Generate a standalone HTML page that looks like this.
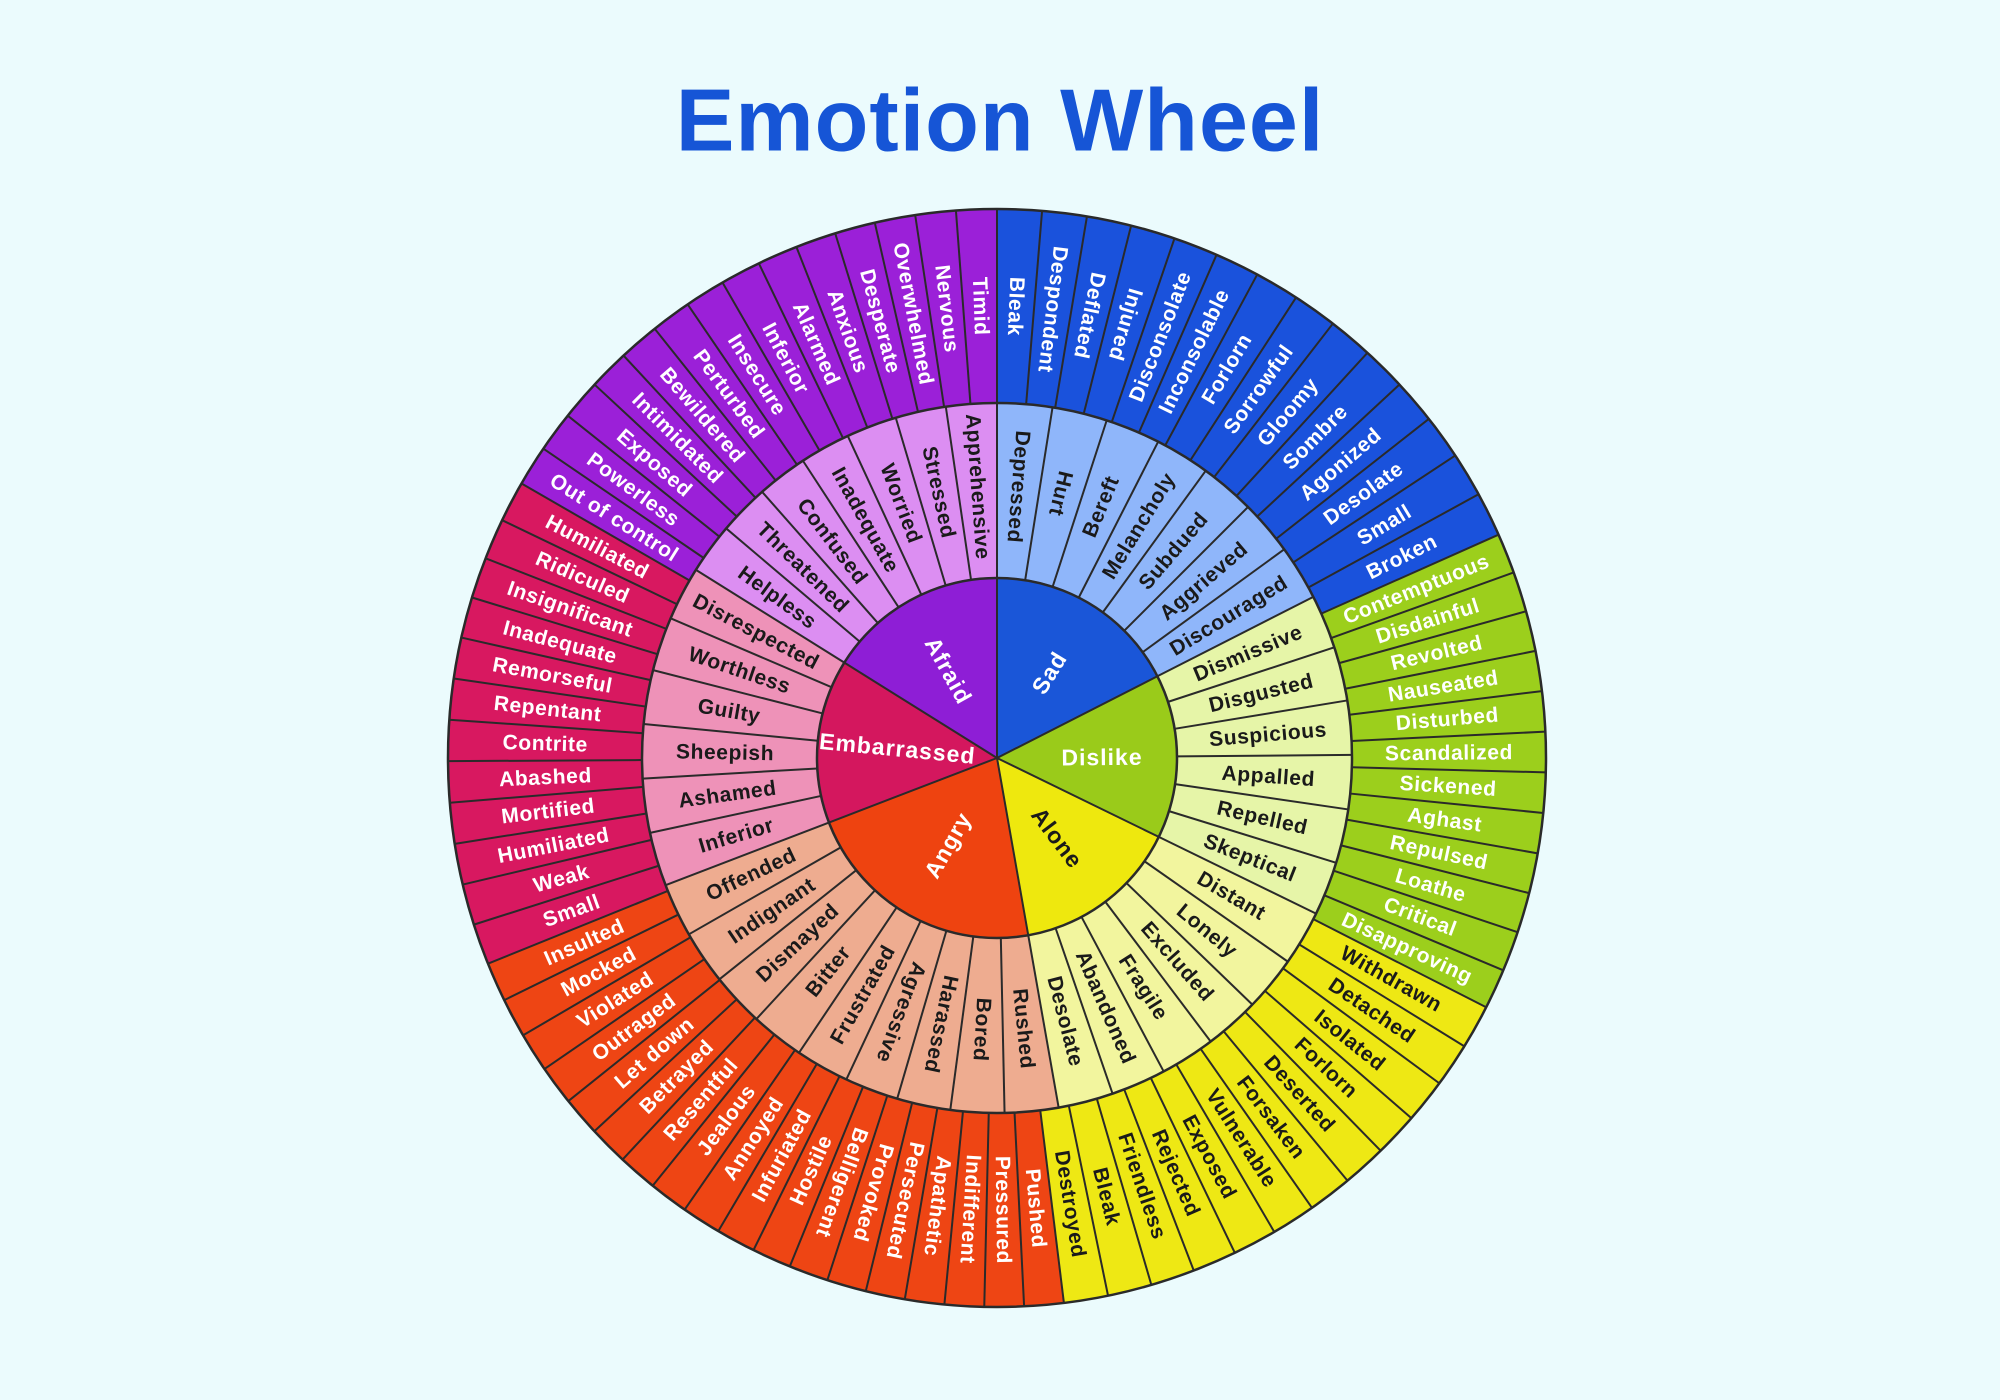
<!DOCTYPE html>
<html><head><meta charset="utf-8"><style>
html,body{margin:0;padding:0;background:#ebfbfd;}
svg{display:block}
text{font-family:"Liberation Sans",sans-serif;font-weight:bold;dominant-baseline:central;text-anchor:middle;}
.o{font-size:21px;fill:#fff;letter-spacing:0.6px}
.od{font-size:21px;fill:#1a1a1a;letter-spacing:0.6px}
.m{font-size:21px;fill:#1a1a1a;letter-spacing:0.6px}
.c{font-size:23px;fill:#fff;letter-spacing:1px}
line{stroke:#2a2a2a;stroke-width:2}
</style></head><body>
<svg width="2000" height="1400" viewBox="0 0 2000 1400">
<rect width="2000" height="1400" fill="#ebfbfd"/>
<text x="1000" y="120" style="font-size:88px;fill:#1655d6;letter-spacing:1px">Emotion Wheel</text>
<g transform="translate(997,758)">
<g fill="none" stroke-width="194">
<circle r="452" pathLength="360" stroke="#1a52dc" stroke-dasharray="66 360" transform="rotate(-90)"/>
<circle r="452" pathLength="360" stroke="#9ccf1c" stroke-dasharray="51 360" transform="rotate(-24)"/>
<circle r="452" pathLength="360" stroke="#eee814" stroke-dasharray="56 360" transform="rotate(27)"/>
<circle r="452" pathLength="360" stroke="#ee4514" stroke-dasharray="75 360" transform="rotate(83)"/>
<circle r="452" pathLength="360" stroke="#d81860" stroke-dasharray="52 360" transform="rotate(158)"/>
<circle r="452" pathLength="360" stroke="#9b20d8" stroke-dasharray="60 360" transform="rotate(210)"/>
</g>
<g fill="none" stroke-width="176">
<circle r="267" pathLength="360" stroke="#8fb6fa" stroke-dasharray="63 360" transform="rotate(-90)"/>
<circle r="267" pathLength="360" stroke="#e6f5a8" stroke-dasharray="53 360" transform="rotate(-27)"/>
<circle r="267" pathLength="360" stroke="#f2f59e" stroke-dasharray="54 360" transform="rotate(26)"/>
<circle r="267" pathLength="360" stroke="#eeac90" stroke-dasharray="79 360" transform="rotate(80)"/>
<circle r="267" pathLength="360" stroke="#ee92b8" stroke-dasharray="53 360" transform="rotate(159)"/>
<circle r="267" pathLength="360" stroke="#dc8ef2" stroke-dasharray="58 360" transform="rotate(212)"/>
</g>
<g fill="none" stroke-width="181">
<circle r="90.5" pathLength="360" stroke="#1a56d8" stroke-dasharray="63 360" transform="rotate(-90)"/>
<circle r="90.5" pathLength="360" stroke="#9acb1a" stroke-dasharray="53 360" transform="rotate(-27)"/>
<circle r="90.5" pathLength="360" stroke="#eee80e" stroke-dasharray="54 360" transform="rotate(26)"/>
<circle r="90.5" pathLength="360" stroke="#ee4310" stroke-dasharray="79 360" transform="rotate(80)"/>
<circle r="90.5" pathLength="360" stroke="#d4175e" stroke-dasharray="53 360" transform="rotate(159)"/>
<circle r="90.5" pathLength="360" stroke="#8e1ed6" stroke-dasharray="58 360" transform="rotate(212)"/>
</g>
<g>
<line x1="0" x2="180" transform="rotate(-90)"/><line x1="0" x2="180" transform="rotate(-27)"/><line x1="0" x2="180" transform="rotate(26)"/><line x1="0" x2="180" transform="rotate(80)"/><line x1="0" x2="180" transform="rotate(159)"/><line x1="0" x2="180" transform="rotate(212)"/>
</g>
<g>
<line x1="180" x2="355" transform="rotate(-90)"/><line x1="180" x2="355" transform="rotate(-81)"/><line x1="180" x2="355" transform="rotate(-72)"/><line x1="180" x2="355" transform="rotate(-63)"/><line x1="180" x2="355" transform="rotate(-54)"/><line x1="180" x2="355" transform="rotate(-45)"/><line x1="180" x2="355" transform="rotate(-36)"/><line x1="180" x2="355" transform="rotate(-27)"/>
<line x1="180" x2="355" transform="rotate(-18.17)"/><line x1="180" x2="355" transform="rotate(-9.33)"/><line x1="180" x2="355" transform="rotate(-0.5)"/><line x1="180" x2="355" transform="rotate(8.33)"/><line x1="180" x2="355" transform="rotate(17.17)"/><line x1="180" x2="355" transform="rotate(26)"/>
<line x1="180" x2="355" transform="rotate(35)"/><line x1="180" x2="355" transform="rotate(44)"/><line x1="180" x2="355" transform="rotate(53)"/><line x1="180" x2="355" transform="rotate(62)"/><line x1="180" x2="355" transform="rotate(71)"/><line x1="180" x2="355" transform="rotate(80)"/>
<line x1="180" x2="355" transform="rotate(88.78)"/><line x1="180" x2="355" transform="rotate(97.56)"/><line x1="180" x2="355" transform="rotate(106.33)"/><line x1="180" x2="355" transform="rotate(115.11)"/><line x1="180" x2="355" transform="rotate(123.89)"/><line x1="180" x2="355" transform="rotate(132.67)"/><line x1="180" x2="355" transform="rotate(141.44)"/><line x1="180" x2="355" transform="rotate(150.22)"/><line x1="180" x2="355" transform="rotate(159)"/>
<line x1="180" x2="355" transform="rotate(167.83)"/><line x1="180" x2="355" transform="rotate(176.67)"/><line x1="180" x2="355" transform="rotate(185.5)"/><line x1="180" x2="355" transform="rotate(194.33)"/><line x1="180" x2="355" transform="rotate(203.17)"/><line x1="180" x2="355" transform="rotate(212)"/>
<line x1="180" x2="355" transform="rotate(220.29)"/><line x1="180" x2="355" transform="rotate(228.57)"/><line x1="180" x2="355" transform="rotate(236.86)"/><line x1="180" x2="355" transform="rotate(245.14)"/><line x1="180" x2="355" transform="rotate(253.43)"/><line x1="180" x2="355" transform="rotate(261.71)"/>
</g>
<g>
<line x1="355" x2="549" transform="rotate(-90)"/><line x1="355" x2="549" transform="rotate(-85.29)"/><line x1="355" x2="549" transform="rotate(-80.57)"/><line x1="355" x2="549" transform="rotate(-75.86)"/><line x1="355" x2="549" transform="rotate(-71.14)"/><line x1="355" x2="549" transform="rotate(-66.43)"/><line x1="355" x2="549" transform="rotate(-61.71)"/><line x1="355" x2="549" transform="rotate(-57)"/><line x1="355" x2="549" transform="rotate(-52.29)"/><line x1="355" x2="549" transform="rotate(-47.57)"/><line x1="355" x2="549" transform="rotate(-42.86)"/><line x1="355" x2="549" transform="rotate(-38.14)"/><line x1="355" x2="549" transform="rotate(-33.43)"/><line x1="355" x2="549" transform="rotate(-28.71)"/><line x1="355" x2="549" transform="rotate(-24)"/>
<line x1="355" x2="549" transform="rotate(-19.75)"/><line x1="355" x2="549" transform="rotate(-15.5)"/><line x1="355" x2="549" transform="rotate(-11.25)"/><line x1="355" x2="549" transform="rotate(-7)"/><line x1="355" x2="549" transform="rotate(-2.75)"/><line x1="355" x2="549" transform="rotate(1.5)"/><line x1="355" x2="549" transform="rotate(5.75)"/><line x1="355" x2="549" transform="rotate(10)"/><line x1="355" x2="549" transform="rotate(14.25)"/><line x1="355" x2="549" transform="rotate(18.5)"/><line x1="355" x2="549" transform="rotate(22.75)"/><line x1="355" x2="549" transform="rotate(27)"/>
<line x1="355" x2="549" transform="rotate(31.67)"/><line x1="355" x2="549" transform="rotate(36.33)"/><line x1="355" x2="549" transform="rotate(41)"/><line x1="355" x2="549" transform="rotate(45.67)"/><line x1="355" x2="549" transform="rotate(50.33)"/><line x1="355" x2="549" transform="rotate(55)"/><line x1="355" x2="549" transform="rotate(59.67)"/><line x1="355" x2="549" transform="rotate(64.33)"/><line x1="355" x2="549" transform="rotate(69)"/><line x1="355" x2="549" transform="rotate(73.67)"/><line x1="355" x2="549" transform="rotate(78.33)"/><line x1="355" x2="549" transform="rotate(83)"/>
<line x1="355" x2="549" transform="rotate(87.17)"/><line x1="355" x2="549" transform="rotate(91.33)"/><line x1="355" x2="549" transform="rotate(95.5)"/><line x1="355" x2="549" transform="rotate(99.67)"/><line x1="355" x2="549" transform="rotate(103.83)"/><line x1="355" x2="549" transform="rotate(108)"/><line x1="355" x2="549" transform="rotate(112.17)"/><line x1="355" x2="549" transform="rotate(116.33)"/><line x1="355" x2="549" transform="rotate(120.5)"/><line x1="355" x2="549" transform="rotate(124.67)"/><line x1="355" x2="549" transform="rotate(128.83)"/><line x1="355" x2="549" transform="rotate(133)"/><line x1="355" x2="549" transform="rotate(137.17)"/><line x1="355" x2="549" transform="rotate(141.33)"/><line x1="355" x2="549" transform="rotate(145.5)"/><line x1="355" x2="549" transform="rotate(149.67)"/><line x1="355" x2="549" transform="rotate(153.83)"/><line x1="355" x2="549" transform="rotate(158)"/>
<line x1="355" x2="549" transform="rotate(162.33)"/><line x1="355" x2="549" transform="rotate(166.67)"/><line x1="355" x2="549" transform="rotate(171)"/><line x1="355" x2="549" transform="rotate(175.33)"/><line x1="355" x2="549" transform="rotate(179.67)"/><line x1="355" x2="549" transform="rotate(184)"/><line x1="355" x2="549" transform="rotate(188.33)"/><line x1="355" x2="549" transform="rotate(192.67)"/><line x1="355" x2="549" transform="rotate(197)"/><line x1="355" x2="549" transform="rotate(201.33)"/><line x1="355" x2="549" transform="rotate(205.67)"/><line x1="355" x2="549" transform="rotate(210)"/>
<line x1="355" x2="549" transform="rotate(214.29)"/><line x1="355" x2="549" transform="rotate(218.57)"/><line x1="355" x2="549" transform="rotate(222.86)"/><line x1="355" x2="549" transform="rotate(227.14)"/><line x1="355" x2="549" transform="rotate(231.43)"/><line x1="355" x2="549" transform="rotate(235.71)"/><line x1="355" x2="549" transform="rotate(240)"/><line x1="355" x2="549" transform="rotate(244.29)"/><line x1="355" x2="549" transform="rotate(248.57)"/><line x1="355" x2="549" transform="rotate(252.86)"/><line x1="355" x2="549" transform="rotate(257.14)"/><line x1="355" x2="549" transform="rotate(261.43)"/><line x1="355" x2="549" transform="rotate(265.71)"/>
</g>
<g fill="none" stroke="#2a2a2a" stroke-width="2.5">
<circle r="180"/><circle r="355"/><circle r="549"/>
</g>
<text class="c" transform="rotate(-58.5) translate(100,0)">Sad</text>
<text class="c" transform="rotate(-0.5) translate(105,0)">Dislike</text>
<text class="c" style="fill:#1a1a1a" transform="rotate(53) translate(100,0)">Alone</text>
<text class="c" transform="rotate(119.5) translate(100,0) rotate(180)">Angry</text>
<text class="c" transform="rotate(185.5) translate(100,0) rotate(180)">Embarrassed</text>
<text class="c" transform="rotate(241) translate(100,0) rotate(180)">Afraid</text>
<g class="m">
<text transform="rotate(-85.5) translate(272,0) rotate(180)">Depressed</text>
<text transform="rotate(-76.5) translate(272,0) rotate(180)">Hurt</text>
<text transform="rotate(-67.5) translate(272,0)">Bereft</text>
<text transform="rotate(-58.5) translate(272,0)">Melancholy</text>
<text transform="rotate(-49.5) translate(272,0)">Subdued</text>
<text transform="rotate(-40.5) translate(272,0)">Aggrieved</text>
<text transform="rotate(-31.5) translate(272,0)">Discouraged</text>
<text transform="rotate(-22.6) translate(272,0)">Dismissive</text>
<text transform="rotate(-13.75) translate(272,0)">Disgusted</text>
<text transform="rotate(-4.9) translate(272,0)">Suspicious</text>
<text transform="rotate(3.9) translate(272,0)">Appalled</text>
<text transform="rotate(12.75) translate(272,0)">Repelled</text>
<text transform="rotate(21.6) translate(272,0)">Skeptical</text>
<text transform="rotate(30.5) translate(272,0)">Distant</text>
<text transform="rotate(39.5) translate(272,0)">Lonely</text>
<text transform="rotate(48.5) translate(272,0)">Excluded</text>
<text transform="rotate(57.5) translate(272,0)">Fragile</text>
<text transform="rotate(66.5) translate(272,0)">Abandoned</text>
<text transform="rotate(75.5) translate(272,0)">Desolate</text>
<text transform="rotate(84.4) translate(272,0)">Rushed</text>
<text transform="rotate(93.2) translate(272,0)">Bored</text>
<text transform="rotate(101.9) translate(272,0)">Harassed</text>
<text transform="rotate(110.7) translate(272,0)">Agressive</text>
<text transform="rotate(119.5) translate(272,0) rotate(180)">Frustrated</text>
<text transform="rotate(128.3) translate(272,0) rotate(180)">Bitter</text>
<text transform="rotate(137.1) translate(272,0) rotate(180)">Dismayed</text>
<text transform="rotate(145.8) translate(272,0) rotate(180)">Indignant</text>
<text transform="rotate(154.6) translate(272,0) rotate(180)">Offended</text>
<text transform="rotate(163.4) translate(272,0) rotate(180)">Inferior</text>
<text transform="rotate(172.25) translate(272,0) rotate(180)">Ashamed</text>
<text transform="rotate(181.1) translate(272,0) rotate(180)">Sheepish</text>
<text transform="rotate(189.9) translate(272,0) rotate(180)">Guilty</text>
<text transform="rotate(198.75) translate(272,0) rotate(180)">Worthless</text>
<text transform="rotate(207.6) translate(272,0) rotate(180)">Disrespected</text>
<text transform="rotate(216.1) translate(272,0) rotate(180)">Helpless</text>
<text transform="rotate(224.4) translate(272,0) rotate(180)">Threatened</text>
<text transform="rotate(232.7) translate(272,0) rotate(180)">Confused</text>
<text transform="rotate(241) translate(272,0) rotate(180)">Inadequate</text>
<text transform="rotate(249.3) translate(272,0) rotate(180)">Worried</text>
<text transform="rotate(257.6) translate(272,0) rotate(180)">Stressed</text>
<text transform="rotate(265.9) translate(272,0) rotate(180)">Apprehensive</text>
</g>
<g class="o">
<text transform="rotate(-87.64) translate(452,0) rotate(180)">Bleak</text>
<text transform="rotate(-82.93) translate(452,0) rotate(180)">Despondent</text>
<text transform="rotate(-78.21) translate(452,0) rotate(180)">Deflated</text>
<text transform="rotate(-73.5) translate(452,0) rotate(180)">Injured</text>
<text transform="rotate(-68.8) translate(452,0)">Disconsolate</text>
<text transform="rotate(-64.1) translate(452,0)">Inconsolable</text>
<text transform="rotate(-59.4) translate(452,0)">Forlorn</text>
<text transform="rotate(-54.6) translate(452,0)">Sorrowful</text>
<text transform="rotate(-49.9) translate(452,0)">Gloomy</text>
<text transform="rotate(-45.2) translate(452,0)">Sombre</text>
<text transform="rotate(-40.5) translate(452,0)">Agonized</text>
<text transform="rotate(-35.8) translate(452,0)">Desolate</text>
<text transform="rotate(-31) translate(452,0)">Small</text>
<text transform="rotate(-26.4) translate(452,0)">Broken</text>
<text transform="rotate(-21.9) translate(452,0)">Contemptuous</text>
<text transform="rotate(-17.6) translate(452,0)">Disdainful</text>
<text transform="rotate(-13.4) translate(452,0)">Revolted</text>
<text transform="rotate(-9.1) translate(452,0)">Nauseated</text>
<text transform="rotate(-4.9) translate(452,0)">Disturbed</text>
<text transform="rotate(-0.6) translate(452,0)">Scandalized</text>
<text transform="rotate(3.6) translate(452,0)">Sickened</text>
<text transform="rotate(7.9) translate(452,0)">Aghast</text>
<text transform="rotate(12.1) translate(452,0)">Repulsed</text>
<text transform="rotate(16.4) translate(452,0)">Loathe</text>
<text transform="rotate(20.6) translate(452,0)">Critical</text>
<text transform="rotate(24.9) translate(452,0)">Disapproving</text>
</g>
<g class="od">
<text transform="rotate(29.3) translate(452,0)">Withdrawn</text>
<text transform="rotate(34) translate(452,0)">Detached</text>
<text transform="rotate(38.7) translate(452,0)">Isolated</text>
<text transform="rotate(43.3) translate(452,0)">Forlorn</text>
<text transform="rotate(48) translate(452,0)">Deserted</text>
<text transform="rotate(52.7) translate(452,0)">Forsaken</text>
<text transform="rotate(57.3) translate(452,0)">Vulnerable</text>
<text transform="rotate(62) translate(452,0)">Exposed</text>
<text transform="rotate(66.7) translate(452,0)">Rejected</text>
<text transform="rotate(71.3) translate(452,0)">Friendless</text>
<text transform="rotate(76) translate(452,0)">Bleak</text>
<text transform="rotate(80.7) translate(452,0)">Destroyed</text>
</g>
<g class="o">
<text transform="rotate(85.1) translate(452,0)">Pushed</text>
<text transform="rotate(89.25) translate(452,0)">Pressured</text>
<text transform="rotate(93.4) translate(452,0)">Indifferent</text>
<text transform="rotate(97.6) translate(452,0)">Apathetic</text>
<text transform="rotate(101.75) translate(452,0)">Persecuted</text>
<text transform="rotate(105.9) translate(452,0)">Provoked</text>
<text transform="rotate(110.1) translate(452,0)">Belligerent</text>
<text transform="rotate(114.25) translate(452,0) rotate(180)">Hostile</text>
<text transform="rotate(118.4) translate(452,0) rotate(180)">Infuriated</text>
<text transform="rotate(122.6) translate(452,0) rotate(180)">Annoyed</text>
<text transform="rotate(126.75) translate(452,0) rotate(180)">Jealous</text>
<text transform="rotate(130.9) translate(452,0) rotate(180)">Resentful</text>
<text transform="rotate(135.1) translate(452,0) rotate(180)">Betrayed</text>
<text transform="rotate(139.25) translate(452,0) rotate(180)">Let down</text>
<text transform="rotate(143.4) translate(452,0) rotate(180)">Outraged</text>
<text transform="rotate(147.6) translate(452,0) rotate(180)">Violated</text>
<text transform="rotate(151.75) translate(452,0) rotate(180)">Mocked</text>
<text transform="rotate(155.9) translate(452,0) rotate(180)">Insulted</text>
<text transform="rotate(160.2) translate(452,0) rotate(180)">Small</text>
<text transform="rotate(164.5) translate(452,0) rotate(180)">Weak</text>
<text transform="rotate(168.8) translate(452,0) rotate(180)">Humiliated</text>
<text transform="rotate(173.2) translate(452,0) rotate(180)">Mortified</text>
<text transform="rotate(177.5) translate(452,0) rotate(180)">Abashed</text>
<text transform="rotate(181.8) translate(452,0) rotate(180)">Contrite</text>
<text transform="rotate(186.2) translate(452,0) rotate(180)">Repentant</text>
<text transform="rotate(190.5) translate(452,0) rotate(180)">Remorseful</text>
<text transform="rotate(194.8) translate(452,0) rotate(180)">Inadequate</text>
<text transform="rotate(199.2) translate(452,0) rotate(180)">Insignificant</text>
<text transform="rotate(203.5) translate(452,0) rotate(180)">Ridiculed</text>
<text transform="rotate(207.8) translate(452,0) rotate(180)">Humiliated</text>
<text transform="rotate(212.1) translate(452,0) rotate(180)">Out of control</text>
<text transform="rotate(216.4) translate(452,0) rotate(180)">Powerless</text>
<text transform="rotate(220.7) translate(452,0) rotate(180)">Exposed</text>
<text transform="rotate(225) translate(452,0) rotate(180)">Intimidated</text>
<text transform="rotate(229.3) translate(452,0) rotate(180)">Bewildered</text>
<text transform="rotate(233.6) translate(452,0) rotate(180)">Perturbed</text>
<text transform="rotate(237.9) translate(452,0) rotate(180)">Insecure</text>
<text transform="rotate(242.1) translate(452,0) rotate(180)">Inferior</text>
<text transform="rotate(246.4) translate(452,0) rotate(180)">Alarmed</text>
<text transform="rotate(250.7) translate(452,0) rotate(180)">Anxious</text>
<text transform="rotate(255) translate(452,0) rotate(180)">Desperate</text>
<text transform="rotate(259.3) translate(452,0) rotate(180)">Overwhelmed</text>
<text transform="rotate(263.6) translate(452,0) rotate(180)">Nervous</text>
<text transform="rotate(267.9) translate(452,0) rotate(180)">Timid</text>
</g>
</g>
</svg>
</body></html>
